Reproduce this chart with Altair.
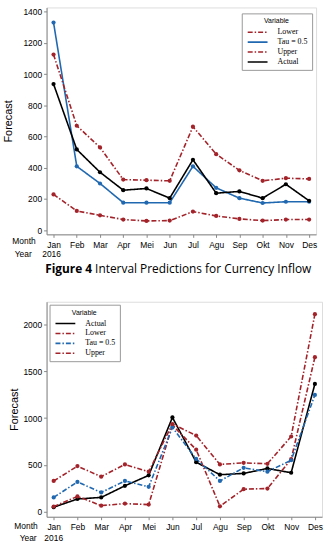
import altair as alt
import pandas as pd

months = ["Jan", "Feb", "Mar", "Apr", "Mei", "Jun", "Jul", "Agu", "Sep", "Okt", "Nov", "Des"]

top_lower = [229, 123, 95, 68, 59, 61, 119, 91, 72, 61, 68, 68]
top_tau = [1330, 409, 299, 176, 176, 176, 409, 271, 205, 174, 182, 182]
top_upper = [1125, 669, 530, 324, 320, 316, 663, 487, 383, 316, 333, 328]
top_actual = [936, 517, 371, 256, 267, 205, 451, 237, 248, 205, 294, 188]

bot_actual = [46, 134, 151, 275, 387, 1007, 528, 394, 408, 461, 415, 1366]
bot_lower = [53, 162, 63, 85, 74, 926, 662, 56, 239, 246, 560, 1652]
bot_tau = [151, 317, 204, 327, 264, 901, 563, 327, 468, 426, 549, 1248]
bot_upper = [327, 486, 373, 504, 426, 937, 813, 504, 521, 511, 803, 2113]

top_order = ["Lower", "Tau = 0.5", "Upper", "Actual"]
bot_order = ["Actual", "Lower", "Tau = 0.5", "Upper"]

caption_bold = "Figure 4"
caption_rest = "Interval Predictions for Currency Inflow"
year_label = "2016"

RED = "#a3232a"
BLUE = "#2068b0"
BLACK = "#000000"
DASHDOT = [5, 2, 1.5, 2]
SOLID = [1, 0]


def long_df(series):
    rows = []
    for name, vals in series.items():
        for m, v in zip(months, vals):
            rows.append({"month": m, "value": v, "Variable": name})
    return pd.DataFrame(rows)


top_df = long_df({"Lower": top_lower, "Tau = 0.5": top_tau, "Upper": top_upper, "Actual": top_actual})
bot_df = long_df({"Actual": bot_actual, "Lower": bot_lower, "Tau = 0.5": bot_tau, "Upper": bot_upper})

FONT = "Liberation Sans"


def panel(df, order, colors, dashes, ydom, yvals, legend_x, legend_y, title_pad):
    xenc = alt.X("month:N", sort=months,
                 scale=alt.Scale(type="point", padding=0.3),
                 axis=alt.Axis(title=None, labelAngle=0, labelFontSize=8.5, labelFont=FONT,
                               tickSize=3, domainColor="#888", tickColor="#888",
                               labelColor="#000", labelPadding=3))
    yenc = alt.Y("value:Q", scale=alt.Scale(domain=ydom, nice=False, zero=False),
                 axis=alt.Axis(title="Forecast", values=yvals, format="d", grid=False,
                               labelFontSize=8.5, labelFont=FONT, titleFont=FONT,
                               titleFontSize=11, titleFontWeight="normal", tickSize=3,
                               domainColor="#888", tickColor="#888", titlePadding=title_pad,
                               labelColor="#000"))
    leg = alt.Legend(orient="none", legendX=legend_x, legendY=legend_y,
                     title="Variable", titleFontSize=7, titleFont=FONT,
                     titleFontWeight="normal", titleAnchor="middle", titlePadding=2,
                     labelFont="Liberation Serif", labelFontSize=8, labelOffset=14,
                     symbolType="M-2,0L2,0", symbolSize=100, symbolOffset=6,
                     symbolStrokeWidth=1.6,
                     strokeColor="#999", fillColor="white",
                     padding=4, rowPadding=0)
    lines = alt.Chart(df).mark_line(
        strokeWidth=1.6,
        point=alt.OverlayMarkDef(filled=True, size=18),
    ).encode(
        x=xenc,
        y=yenc,
        color=alt.Color("Variable:N", scale=alt.Scale(domain=order, range=colors), legend=leg),
        strokeDash=alt.StrokeDash("Variable:N", scale=alt.Scale(domain=order, range=dashes),
                                  legend=leg),
    )
    return lines


def txt(t, x, y, align="right", size=8.5, weight="normal", font=FONT):
    return alt.Chart(alt.Data(values=[{"t": t}])).mark_text(
        align=align, baseline="middle", fontSize=size, fontWeight=weight, font=font, color="#000"
    ).encode(text="t:N", x=alt.value(x), y=alt.value(y))


def year_text(y, dx):
    return alt.Chart(alt.Data(values=[{"month": months[0], "t": year_label}])).mark_text(
        align="center", baseline="middle", fontSize=8.5, font=FONT, color="#000", dx=dx
    ).encode(x=alt.X("month:N", sort=months), y=alt.value(y), text="t:N")


# Top panel
TW, TH = 272, 229
top_lines = panel(top_df, top_order, [RED, BLUE, RED, BLACK], [DASHDOT, SOLID, DASHDOT, SOLID],
                  [-27, 1427], [0, 200, 400, 600, 800, 1000, 1200, 1400], 197, 6, 9)
top = alt.layer(
    top_lines,
    txt("Month", -11, TH + 7),
    txt("Year", -15, TH + 20),
    year_text(TH + 20, -2),
    txt(caption_bold, 46, TH + 35, align="right", size=12, weight="bold", font="Open Sans"),
    txt(caption_rest, 49, TH + 35, align="left", size=12, font="Open Sans"),
).properties(width=TW, height=TH)

# Bottom panel
BW, BH = 278, 217
bot_lines = panel(bot_df, bot_order, [BLACK, RED, BLUE, RED], [SOLID, DASHDOT, DASHDOT, DASHDOT],
                  [-56, 2246], [0, 500, 1000, 1500, 2000], 3, 3, 3)
bottom = alt.layer(
    bot_lines,
    txt("Month", -9, BH + 9),
    txt("Year", -10, BH + 21),
    year_text(BH + 21, 0),
).properties(width=BW, height=BH)

chart = alt.concat(top, bottom, columns=1, spacing=25, align="none").resolve_scale(
    color="independent", strokeDash="independent", x="independent", y="independent"
).properties(padding={"left": 2, "top": 4, "right": 2, "bottom": 0}).configure_view(
    stroke="#999", strokeWidth=1
).configure(background="white")

chart.save("out.html", embed_options={"renderer": "svg", "actions": False})
